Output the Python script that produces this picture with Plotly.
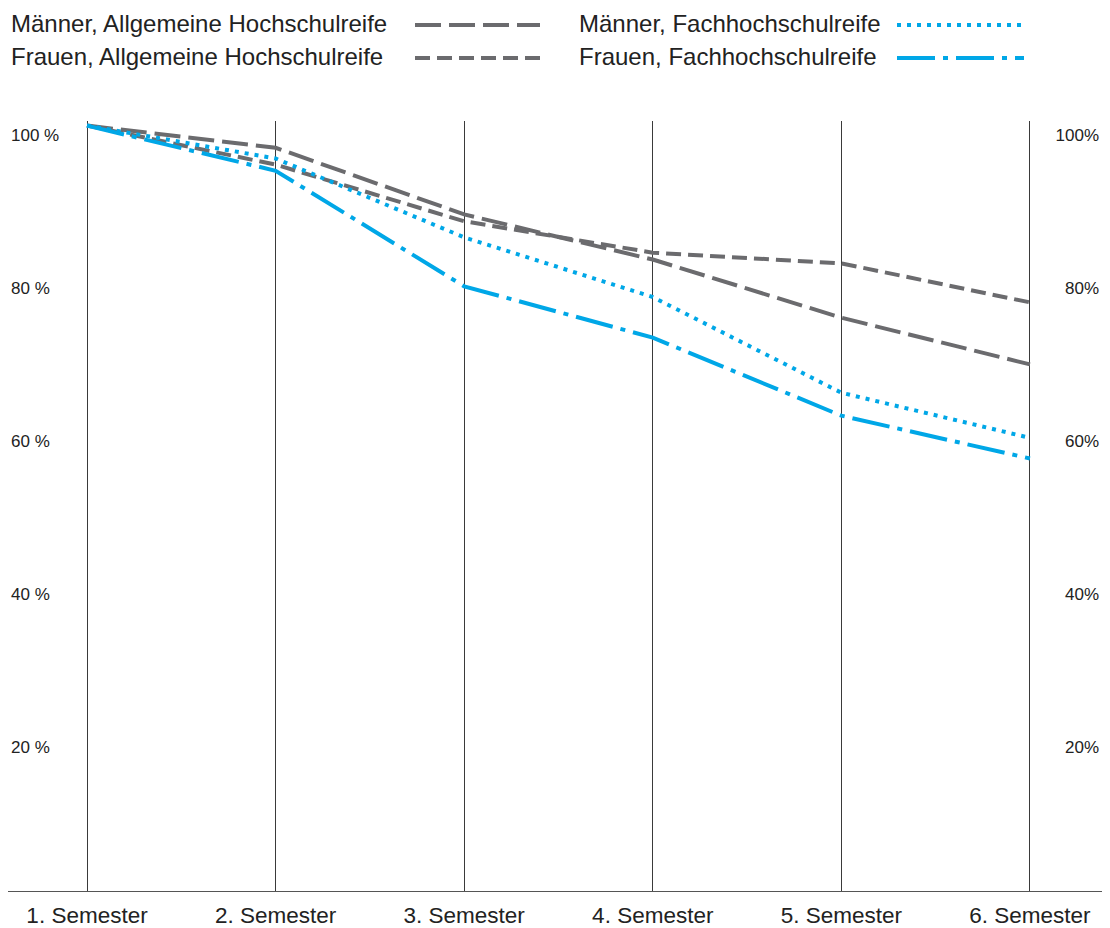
import plotly.graph_objects as go

# ---- data ----
semester = ["1. Semester", "2. Semester", "3. Semester", "4. Semester", "5. Semester", "6. Semester"]
maenner_ahr = [100, 97.1, 88.4, 82.5, 74.9, 68.8]
frauen_ahr = [100, 94.9, 87.5, 83.4, 82.0, 76.9]
maenner_fhr = [100, 95.7, 85.4, 77.6, 65.1, 59.2]
frauen_fhr = [100, 94.1, 79.0, 72.3, 62.1, 56.5]

series_names = [
    "Männer, Allgemeine Hochschulreife",
    "Frauen, Allgemeine Hochschulreife",
    "Männer, Fachhochschulreife",
    "Frauen, Fachhochschulreife",
]
series_values = [maenner_ahr, frauen_ahr, maenner_fhr, frauen_fhr]

y_tickvals = [20, 40, 60, 80, 100]
y_ticktext_left = ["20 %", "40 %", "60 %", "80 %", "100 %"]
y_ticktext_right = ["20%", "40%", "60%", "80%", "100%"]

# ---- styles ----
GRAY = "#6b6b6e"
BLUE = "#00a7e7"
colors = [GRAY, GRAY, BLUE, BLUE]
dashes = ["26px,8px", "15px,7px", "4px,6px", "38px,8px,5px,8px"]
FONT = "Liberation Sans"
TXT = "#222222"

# the page body adds an 8px margin, so the figure is 8px smaller
W, H = 1102, 920
L, R, T, B = 0, 8, 113, 37
PW, PH = W - L - R, H - T - B

fig = go.Figure()
for name, vals, col, dsh in zip(series_names, series_values, colors, dashes):
    fig.add_trace(go.Scatter(
        x=semester, y=vals, name=name, mode="lines",
        line=dict(color=col, width=4, dash=dsh),
        showlegend=False,
    ))

# invisible companion trace so the right-hand percentage axis is drawn
fig.add_trace(go.Scatter(
    x=semester, y=maenner_ahr, yaxis="y2", mode="lines",
    line=dict(width=0), opacity=0, showlegend=False, hoverinfo="skip",
))

# custom legend: text followed by line sample (as in the reference)
def px_x(x):
    return (x - L) / PW

def px_y(y):
    return (H - B - y) / PH

legend_slots = [
    (1, 0, 407, 532, 17),
    (1, 33, 407, 532, 50),
    (569, 0, 889, 1016, 17),
    (569, 33, 889, 1016, 50),
]
for (tx, ty, lx0, lx1, ly), name, col, dsh in zip(legend_slots, series_names, colors, dashes):
    fig.add_annotation(
        x=px_x(tx), y=px_y(ty), xref="paper", yref="paper",
        text=name, showarrow=False, xanchor="left", yanchor="top",
        font=dict(family=FONT, size=24, color=TXT),
    )
    fig.add_shape(
        type="line", xref="paper", yref="paper",
        x0=px_x(lx0), x1=px_x(lx1), y0=px_y(ly), y1=px_y(ly),
        line=dict(color=col, width=4, dash=dsh),
    )

fig.update_layout(
    width=W, height=H,
    margin=dict(l=L, r=R, t=T, b=B, pad=0),
    paper_bgcolor="white", plot_bgcolor="white",
    font=dict(family=FONT, color=TXT),
    xaxis=dict(
        type="category", range=[-0.419, 5.382],
        showgrid=True, gridcolor="#3a3a3a", gridwidth=1,
        showline=True, linecolor="#555555", linewidth=1,
        zeroline=False, ticks="", ticklabelstandoff=4,
        tickfont=dict(family=FONT, size=22.5, color=TXT),
    ),
    yaxis=dict(
        range=[0, 100.6], showgrid=False, zeroline=False, showline=False,
        tickvals=y_tickvals, ticktext=y_ticktext_left,
        ticklabelposition="inside", ticklabelshift=9,
        tickfont=dict(family=FONT, size=17, color=TXT),
    ),
    yaxis2=dict(
        range=[0, 100.6], overlaying="y", side="right", anchor="x",
        showgrid=False, zeroline=False, showline=False,
        tickvals=y_tickvals, ticktext=y_ticktext_right,
        ticklabelposition="inside", ticklabelshift=9,
        tickfont=dict(family=FONT, size=17, color=TXT),
    ),
)

fig.write_html("out.html")
